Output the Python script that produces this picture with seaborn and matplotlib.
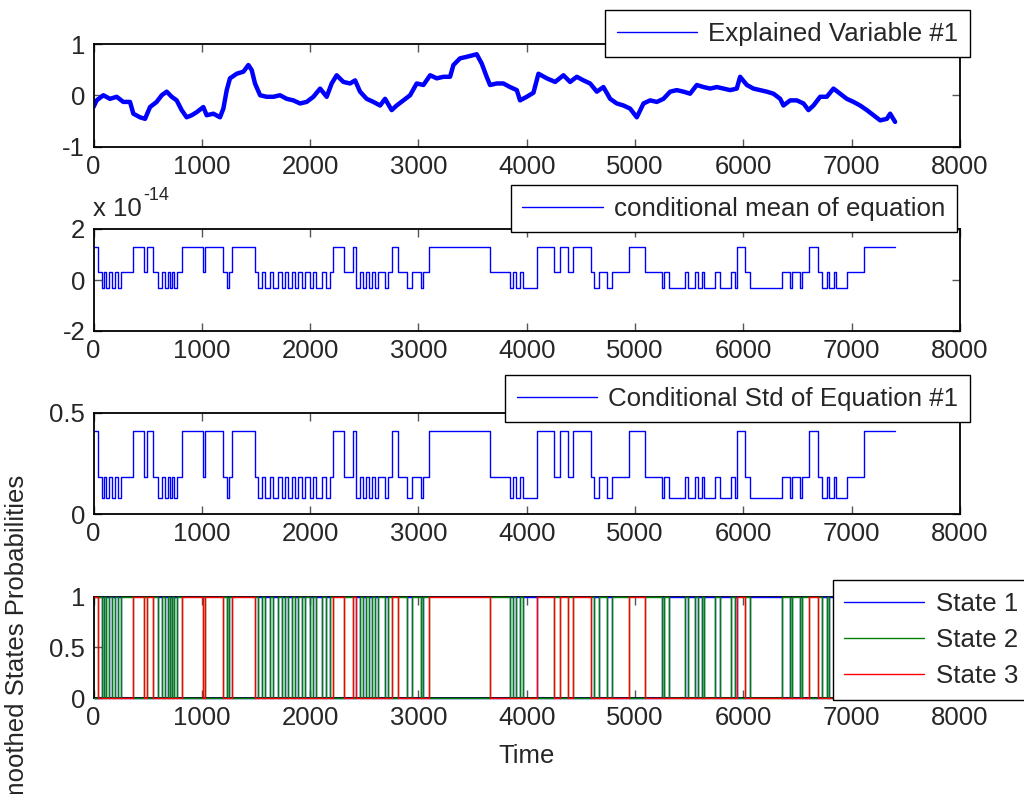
import matplotlib
matplotlib.use("Agg")
import matplotlib.pyplot as plt
from matplotlib.lines import Line2D
import pandas as pd
import seaborn as sns

sns.set_style("ticks")
plt.rcParams["font.family"] = ["Liberation Sans", "DejaVu Sans"]
plt.rcParams["axes.unicode_minus"] = False

# ---------------- data ----------------
x_ticks = [0, 1000, 2000, 3000, 4000, 5000, 6000, 7000, 8000]

# Panel 1: explained variable (centre of the noisy band)
expl_time = [0, 29, 91, 152, 214, 275, 337, 368, 429, 476, 522, 583, 630, 676, 722, 768,
             814, 860, 907, 953, 1014, 1045, 1107, 1168, 1199, 1230, 1260, 1322, 1384, 1430,
             1461, 1491, 1538, 1599, 1661, 1722, 1784, 1845, 1907, 1968, 2030, 2092, 2153,
             2199, 2245, 2307, 2369, 2415, 2461, 2522, 2584, 2646, 2692, 2753, 2799, 2861,
             2923, 2984, 3046, 3108, 3169, 3231, 3292, 3323, 3384, 3446, 3538, 3584, 3630,
             3661, 3723, 3784, 3846, 3908, 3938, 4000, 4062, 4108, 4185, 4262, 4339, 4400,
             4462, 4524, 4585, 4647, 4708, 4770, 4831, 4893, 4954, 5016, 5078, 5139, 5201,
             5262, 5324, 5385, 5447, 5508, 5570, 5632, 5693, 5755, 5816, 5878, 5939, 5970,
             6032, 6093, 6155, 6216, 6278, 6340, 6370, 6432, 6493, 6555, 6601, 6647, 6709,
             6770, 6832, 6894, 6955, 7017, 7078, 7140, 7201, 7263, 7325, 7355, 7401]
expl_value = [-0.23, -0.10, 0.00, -0.07, -0.03, -0.13, -0.13, -0.36, -0.43, -0.46, -0.23,
              -0.13, 0.00, 0.07, -0.03, -0.10, -0.29, -0.43, -0.39, -0.33, -0.23, -0.39,
              -0.36, -0.43, -0.26, 0.10, 0.33, 0.42, 0.46, 0.59, 0.49, 0.23, 0.00, -0.03,
              -0.03, 0.00, -0.07, -0.10, -0.16, -0.13, -0.03, 0.13, -0.03, 0.23, 0.39, 0.26,
              0.23, 0.29, 0.07, -0.07, -0.13, -0.20, -0.07, -0.29, -0.20, -0.10, 0.00, 0.23,
              0.20, 0.39, 0.33, 0.36, 0.36, 0.59, 0.72, 0.75, 0.80, 0.62, 0.36, 0.20, 0.23,
              0.23, 0.16, 0.10, -0.10, -0.03, 0.05, 0.42, 0.33, 0.26, 0.39, 0.26, 0.36, 0.29,
              0.23, 0.07, 0.16, -0.07, -0.16, -0.20, -0.26, -0.43, -0.16, -0.10, -0.13, -0.07,
              0.07, 0.10, 0.07, 0.03, 0.20, 0.16, 0.13, 0.16, 0.13, 0.10, 0.13, 0.36, 0.20,
              0.13, 0.10, 0.07, 0.03, -0.07, -0.20, -0.10, -0.10, -0.16, -0.29, -0.20, -0.03,
              -0.03, 0.13, 0.03, -0.07, -0.13, -0.20, -0.29, -0.39, -0.49, -0.46, -0.36, -0.52]

# Regime timeline (state active from each time onward): 1 = low, 2 = mid, 3 = high
regime_time = [0, 40, 75, 100, 120, 145, 175, 200, 230, 250, 368, 470, 490, 545, 593, 630,
               660, 691, 706, 728, 746, 768, 814, 1014, 1030, 1199, 1230, 1251, 1276, 1491,
               1522, 1553, 1584, 1630, 1661, 1707, 1738, 1768, 1799, 1830, 1861, 1891, 1922,
               1953, 1999, 2030, 2052, 2107, 2144, 2184, 2215, 2317, 2400, 2424, 2460, 2490,
               2520, 2545, 2570, 2600, 2630, 2690, 2720, 2754, 2809, 2892, 2938, 3024, 3040,
               3101, 3662, 3846, 3877, 3900, 3938, 3969, 4092, 4256, 4308, 4385, 4430, 4594,
               4625, 4671, 4739, 4791, 4945, 5093, 5247, 5271, 5314, 5462, 5487, 5554, 5579,
               5616, 5640, 5739, 5785, 5887, 5924, 5939, 6016, 6062, 6355, 6431, 6453, 6524,
               6545, 6610, 6687, 6724, 6770, 6786, 6841, 6859, 6955, 7118, 7401]
regime_state = [3, 2, 1, 2, 1, 2, 1, 2, 1, 2, 3, 2, 3, 2, 1, 2,
                1, 2, 1, 2, 1, 2, 3, 2, 3, 2, 1, 2, 3, 2,
                1, 2, 1, 2, 1, 2, 1, 2, 1, 2, 1, 2, 1,
                2, 1, 2, 1, 2, 1, 2, 3, 2, 3, 1, 2, 1,
                2, 1, 2, 1, 2, 1, 2, 3, 2, 1, 2, 1, 2,
                3, 2, 1, 2, 1, 2, 1, 3, 2, 3, 2, 3, 2,
                1, 2, 1, 2, 3, 2, 1, 2, 1, 2, 1, 2, 1,
                2, 1, 2, 1, 2, 1, 3, 2, 1, 2, 1, 2, 1,
                2, 3, 2, 1, 2, 1, 2, 1, 2, 3, 3]

state_mean = [-0.3e-14, 0.33e-14, 1.3e-14]   # conditional mean level of each state
state_std = [0.08, 0.18, 0.41]               # conditional std level of each state
state_labels = ["State 1", "State 2", "State 3"]
state_colors = ["#0000FF", "#008000", "#FF0000"]

assert len(expl_time) == len(expl_value)
assert len(regime_time) == len(regime_state)

reg = pd.DataFrame({"time": regime_time, "state": regime_state})
reg["mean"] = [state_mean[s - 1] for s in regime_state]
reg["std"] = [state_std[s - 1] for s in regime_state]
for k in (1, 2, 3):
    reg[f"p{k}"] = [1.0 if s == k else 0.0 for s in regime_state]
expl = pd.DataFrame({"time": expl_time, "value": expl_value})

# ---------------- figure ----------------
fig = plt.figure(figsize=(10.24, 7.94), dpi=100)
W, H = 1024.0, 794.0
left, width = 93.5 / W, 866.5 / W
tops = [44, 229, 412.5, 596.5]
bots = [146.5, 331, 514, 698]
axes = [fig.add_axes([left, 1 - b / H, width, (b - t) / H]) for t, b in zip(tops, bots)]
FS = 18.5
LFS = 18.6

def style(ax, yticks, ylim, ylabels=None):
    ax.set_xlim(0, 8000)
    ax.set_xticks(x_ticks)
    ax.set_xticklabels([str(v) for v in x_ticks])
    ax.set_ylim(*ylim)
    ax.set_yticks(yticks)
    if ylabels is not None:
        ax.set_yticklabels(ylabels)
    ax.tick_params(direction="in", length=6, width=1.0, color="#555555", top=True,
                   right=True, labelsize=FS, pad=6)
    for sp in ax.spines.values():
        sp.set_visible(True)
        sp.set_linewidth(1.3)
        sp.set_color("black")
    ax.set_xlabel("")
    ax.set_ylabel("")

def add_legend(ax, handles, labels, right_px, top_px, spacing=0.35):
    leg = ax.legend(handles=handles, labels=labels, loc="upper right",
                    bbox_to_anchor=(right_px / W, 1 - top_px / H),
                    bbox_transform=fig.transFigure, frameon=True, fancybox=False,
                    framealpha=1, edgecolor="black", fontsize=LFS, handlelength=3.1,
                    handletextpad=0.45, borderpad=0.45, borderaxespad=0,
                    labelspacing=spacing)
    leg.get_frame().set_linewidth(1.0)
    return leg

# Panel 1
ax = axes[0]
sns.lineplot(data=expl, x="time", y="value", ax=ax, color="#0000FF", linewidth=3.2,
             estimator=None, legend=False)
style(ax, [-1, 0, 1], (-1, 1))
add_legend(ax, [Line2D([], [], color="#0000FF", lw=1)], ["Explained Variable #1"], 970, 10)

# Panel 2
ax = axes[1]
sns.lineplot(data=reg, x="time", y="mean", ax=ax, color="#0000FF", linewidth=1.0,
             estimator=None, legend=False, drawstyle="steps-post")
style(ax, [-2e-14, 0, 2e-14], (-2e-14, 2e-14), ["-2", "0", "2"])
add_legend(ax, [Line2D([], [], color="#0000FF", lw=1)], ["conditional mean of equation"], 957, 185)
fig.text(93 / W, 1 - 209 / H, "x 10", fontsize=FS, ha="left", va="center")
fig.text(143 / W, 1 - 196 / H, "-14", fontsize=13, ha="left", va="center")

# Panel 3
ax = axes[2]
sns.lineplot(data=reg, x="time", y="std", ax=ax, color="#0000FF", linewidth=1.0,
             estimator=None, legend=False, drawstyle="steps-post")
style(ax, [0, 0.5], (0, 0.5), ["0", "0.5"])
add_legend(ax, [Line2D([], [], color="#0000FF", lw=1)], ["Conditional Std of Equation #1"], 970, 375)

# Panel 4
ax = axes[3]
for k in (1, 2, 3):
    sns.lineplot(data=reg, x="time", y=f"p{k}", ax=ax, color=state_colors[k - 1],
                 linewidth=1.0, estimator=None, legend=False, drawstyle="steps-post")
for ln in ax.lines:
    ln.set_clip_on(False)
    ln.set_zorder(3)
style(ax, [0, 0.5, 1], (0, 1), ["0", "0.5", "1"])
add_legend(ax, [Line2D([], [], color=c, lw=1) for c in state_colors], state_labels,
           1030, 580, spacing=0.47)
ax.set_ylabel("Smoothed States Probabilities", fontsize=FS)
ax.yaxis.set_label_coords(-0.075, 0.5)
ax.set_xlabel("Time", fontsize=FS)
ax.xaxis.set_label_coords(0.5, -0.45)

fig.savefig("out.png", dpi=100)
